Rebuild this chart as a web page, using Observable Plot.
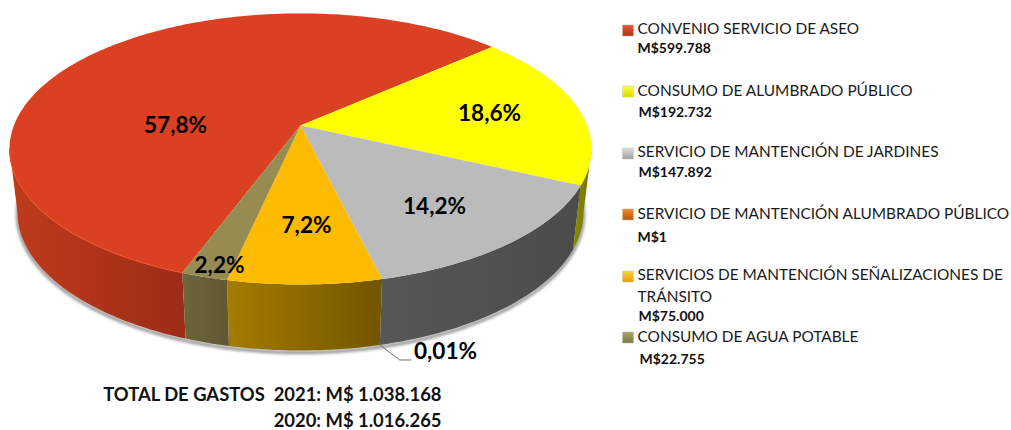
<!DOCTYPE html>
<html>
<head>
<meta charset="utf-8">
<script src="https://cdn.jsdelivr.net/npm/d3@7"></script>
<script src="https://cdn.jsdelivr.net/npm/@observablehq/plot@0.6"></script>
<style>html,body{margin:0;padding:0;background:#fff}svg{display:block}</style>
</head>
<body>
<div id="chart"></div>
<script>
// ---- data ----
const names = [
  "CONVENIO SERVICIO DE ASEO",
  "CONSUMO DE ALUMBRADO PÚBLICO",
  "SERVICIO DE MANTENCIÓN DE JARDINES",
  "SERVICIO DE MANTENCIÓN ALUMBRADO PÚBLICO",
  "SERVICIOS DE MANTENCIÓN SEÑALIZACIONES DE",
  "CONSUMO DE AGUA POTABLE"
];
const values = [599788, 192732, 147892, 1, 75000, 22755];
const amounts = ["M$599.788", "M$192.732", "M$147.892", "M$1", "M$75.000", "M$22.755"];
const percents = ["57,8%", "18,6%", "14,2%", "0,01%", "7,2%", "2,2%"];
const totals = ["TOTAL DE GASTOS\u00a0\u00a02021: M$ 1.038.168", "2020: M$ 1.016.265"];

// ---- styles and layout ----
const topColors = ["#da4022", "#ffff00", "#bbbbbb", "#e36c0a", "#fdbb00", "#968c52"];
const wallStops = [["#bf3b1c", "#9c2c17"], ["#8a8a00", "#747400"], ["#575757", "#4b4b4b"], ["#a05a10", "#a05a10"], ["#a47c00", "#735500"], ["#6d663c", "#5f5833"]];
const swatchStops = [["#e8583a", "#b5300f"], ["#ffff40", "#d8d800"], ["#dddddd", "#a0a0a0"], ["#f08a30", "#b85800"], ["#ffd040", "#e0a000"], ["#aaa268", "#7c7440"]];
const percentPos = [[175, 125], [489, 113], [434, 206], [445, 351], [306, 225], [219, 265]];
const legendY = [29, 91, 152, 214, 275, 337];
const amountPos = [[637, 48], [638, 112], [638, 172], [637, 237], [638, 316], [639, 359]];
const swatchY = [30, 91, 153, 214, 276, 337];

const startDeg = 110.2, K = 0.173, R = 286.6, Q = 131.5, APEX = [300, 125];
const TOP = {cx: 300, cy: 148.5, rx: 291, ry: 135.5};
const BOT = {cx: 300, cy: 212, rx: 283, ry: 138};
const VIS = [10, 170]; // front of the disc, in degrees

// projection of the tilted disc
function rim(deg) {
  const t = deg * Math.PI / 180, c = Math.cos(t), s = Math.sin(t), w = 1 - K * s;
  return {x: APEX[0] + R * c / w, y: APEX[1] + Q * s / w};
}
function floor(deg) {
  const p = rim(deg);
  const ex = (p.x - TOP.cx) / TOP.rx, ey = (p.y - TOP.cy) / TOP.ry;
  return {x: BOT.cx + BOT.rx * ex, y: BOT.cy + BOT.ry * ey};
}
function steps(a, b) {
  const n = Math.max(2, Math.ceil(Math.abs(b - a)));
  return d3.range(n + 1).map(i => a + (b - a) * i / n);
}

const total = d3.sum(values);
let acc = startDeg;
const slices = values.map((v, i) => {
  const a0 = acc, a1 = acc + v / total * 360;
  acc = a1;
  return {i, a0, a1};
});

function wallPts(s) {
  const out = [];
  [0, 360].forEach(off => {
    const a = Math.max(s.a0 - off, VIS[0]), b = Math.min(s.a1 - off, VIS[1]);
    if (b > a) out.push([...steps(a, b).map(rim), ...steps(b, a).map(floor)]);
  });
  return out;
}
function topPts(s) {
  return [{x: APEX[0], y: APEX[1]}, ...steps(s.a0, s.a1).map(rim)];
}

const defs = () => {
  const d = d3.create("svg:defs");
  const add = (id, stops, vertical) => {
    const g = d.append("linearGradient").attr("id", id)
      .attr("x1", 0).attr("y1", 0).attr("x2", vertical ? 0 : 1).attr("y2", vertical ? 1 : 0);
    g.append("stop").attr("offset", "0%").attr("stop-color", stops[0]);
    g.append("stop").attr("offset", "100%").attr("stop-color", stops[1]);
  };
  wallStops.forEach((st, i) => add("wall" + i, st, false));
  swatchStops.forEach((st, i) => add("sw" + i, st, true));
  return d.node();
};

const walls = slices.filter(s => s.a1 - s.a0 > 0.01).flatMap(s =>
  wallPts(s).map(pts => Plot.line(pts, {x: "x", y: "y", fill: `url(#wall${s.i})`, stroke: "none"})));
const tops = slices.filter(s => s.a1 - s.a0 > 0.01).map(s =>
  Plot.line(topPts(s), {x: "x", y: "y", fill: topColors[s.i], stroke: "none"}));

const tiny = slices[3];
const leaderStart = floor(tiny.a0);
const leader = [leaderStart, {x: leaderStart.x + 20, y: leaderStart.y + 15}, {x: leaderStart.x + 31, y: leaderStart.y + 15}];

const legendRows = names.map((n, i) => ({n, i, y: legendY[i], sy: swatchY[i]}));
const amountRows = amounts.map((a, i) => ({a, x: amountPos[i][0], y: amountPos[i][1]}));
const pctRows = percents.map((p, i) => ({p, x: percentPos[i][0], y: percentPos[i][1]}));

const plot = Plot.plot({
  width: 1011, height: 430, margin: 0,
  x: {domain: [0, 1011], range: [0, 1011], axis: null},
  y: {domain: [0, 430], range: [0, 430], axis: null},
  style: {background: "#fff", fontFamily: "Lato, sans-serif"},
  marks: [
    defs,
    Plot.line(steps(VIS[0] - 14, VIS[1] + 14).map(floor), {x: "x", y: "y", dy: 2, stroke: "#8a8a8a", strokeWidth: 3, imageFilter: "blur(1.5px)"}),
    ...walls,
    ...tops,
    Plot.line(steps(slices[0].a0, VIS[1]).map(rim), {x: "x", y: "y", stroke: "#f4522a", strokeWidth: 1}),
    Plot.line(leader, {x: "x", y: "y", stroke: "#707070", strokeWidth: 1}),
    Plot.text(pctRows, {x: "x", y: "y", text: "p", fill: "#000", fontSize: 22.6, fontWeight: 700}),
    Plot.text(totals.slice(0, 1), {x: () => 441, y: () => 395, text: d => d, textAnchor: "end", fontSize: 18.4, fontWeight: 700, fill: "#111"}),
    Plot.text(totals.slice(1), {x: () => 441, y: () => 421, text: d => d, textAnchor: "end", fontSize: 18.4, fontWeight: 700, fill: "#111"}),
    ...legendRows.map(r => Plot.dot([r], {x: () => 627.5, y: "sy", symbol: "square", r: 6.3, fill: `url(#sw${r.i})`, stroke: "#ccc", strokeWidth: 0.5})),
    Plot.text(legendRows, {x: () => 637, y: "y", text: "n", textAnchor: "start", fontSize: 15.4, fill: "#1a1a1a"}),
    Plot.text(["TRÁNSITO"], {x: () => 637, y: () => 297, text: d => d, textAnchor: "start", fontSize: 15.4, fill: "#1a1a1a"}),
    Plot.text(amountRows, {x: "x", y: "y", text: "a", textAnchor: "start", fontSize: 14, fontWeight: 700, fill: "#111"})
  ]
});
document.getElementById("chart").append(plot);
</script>
</body>
</html>
